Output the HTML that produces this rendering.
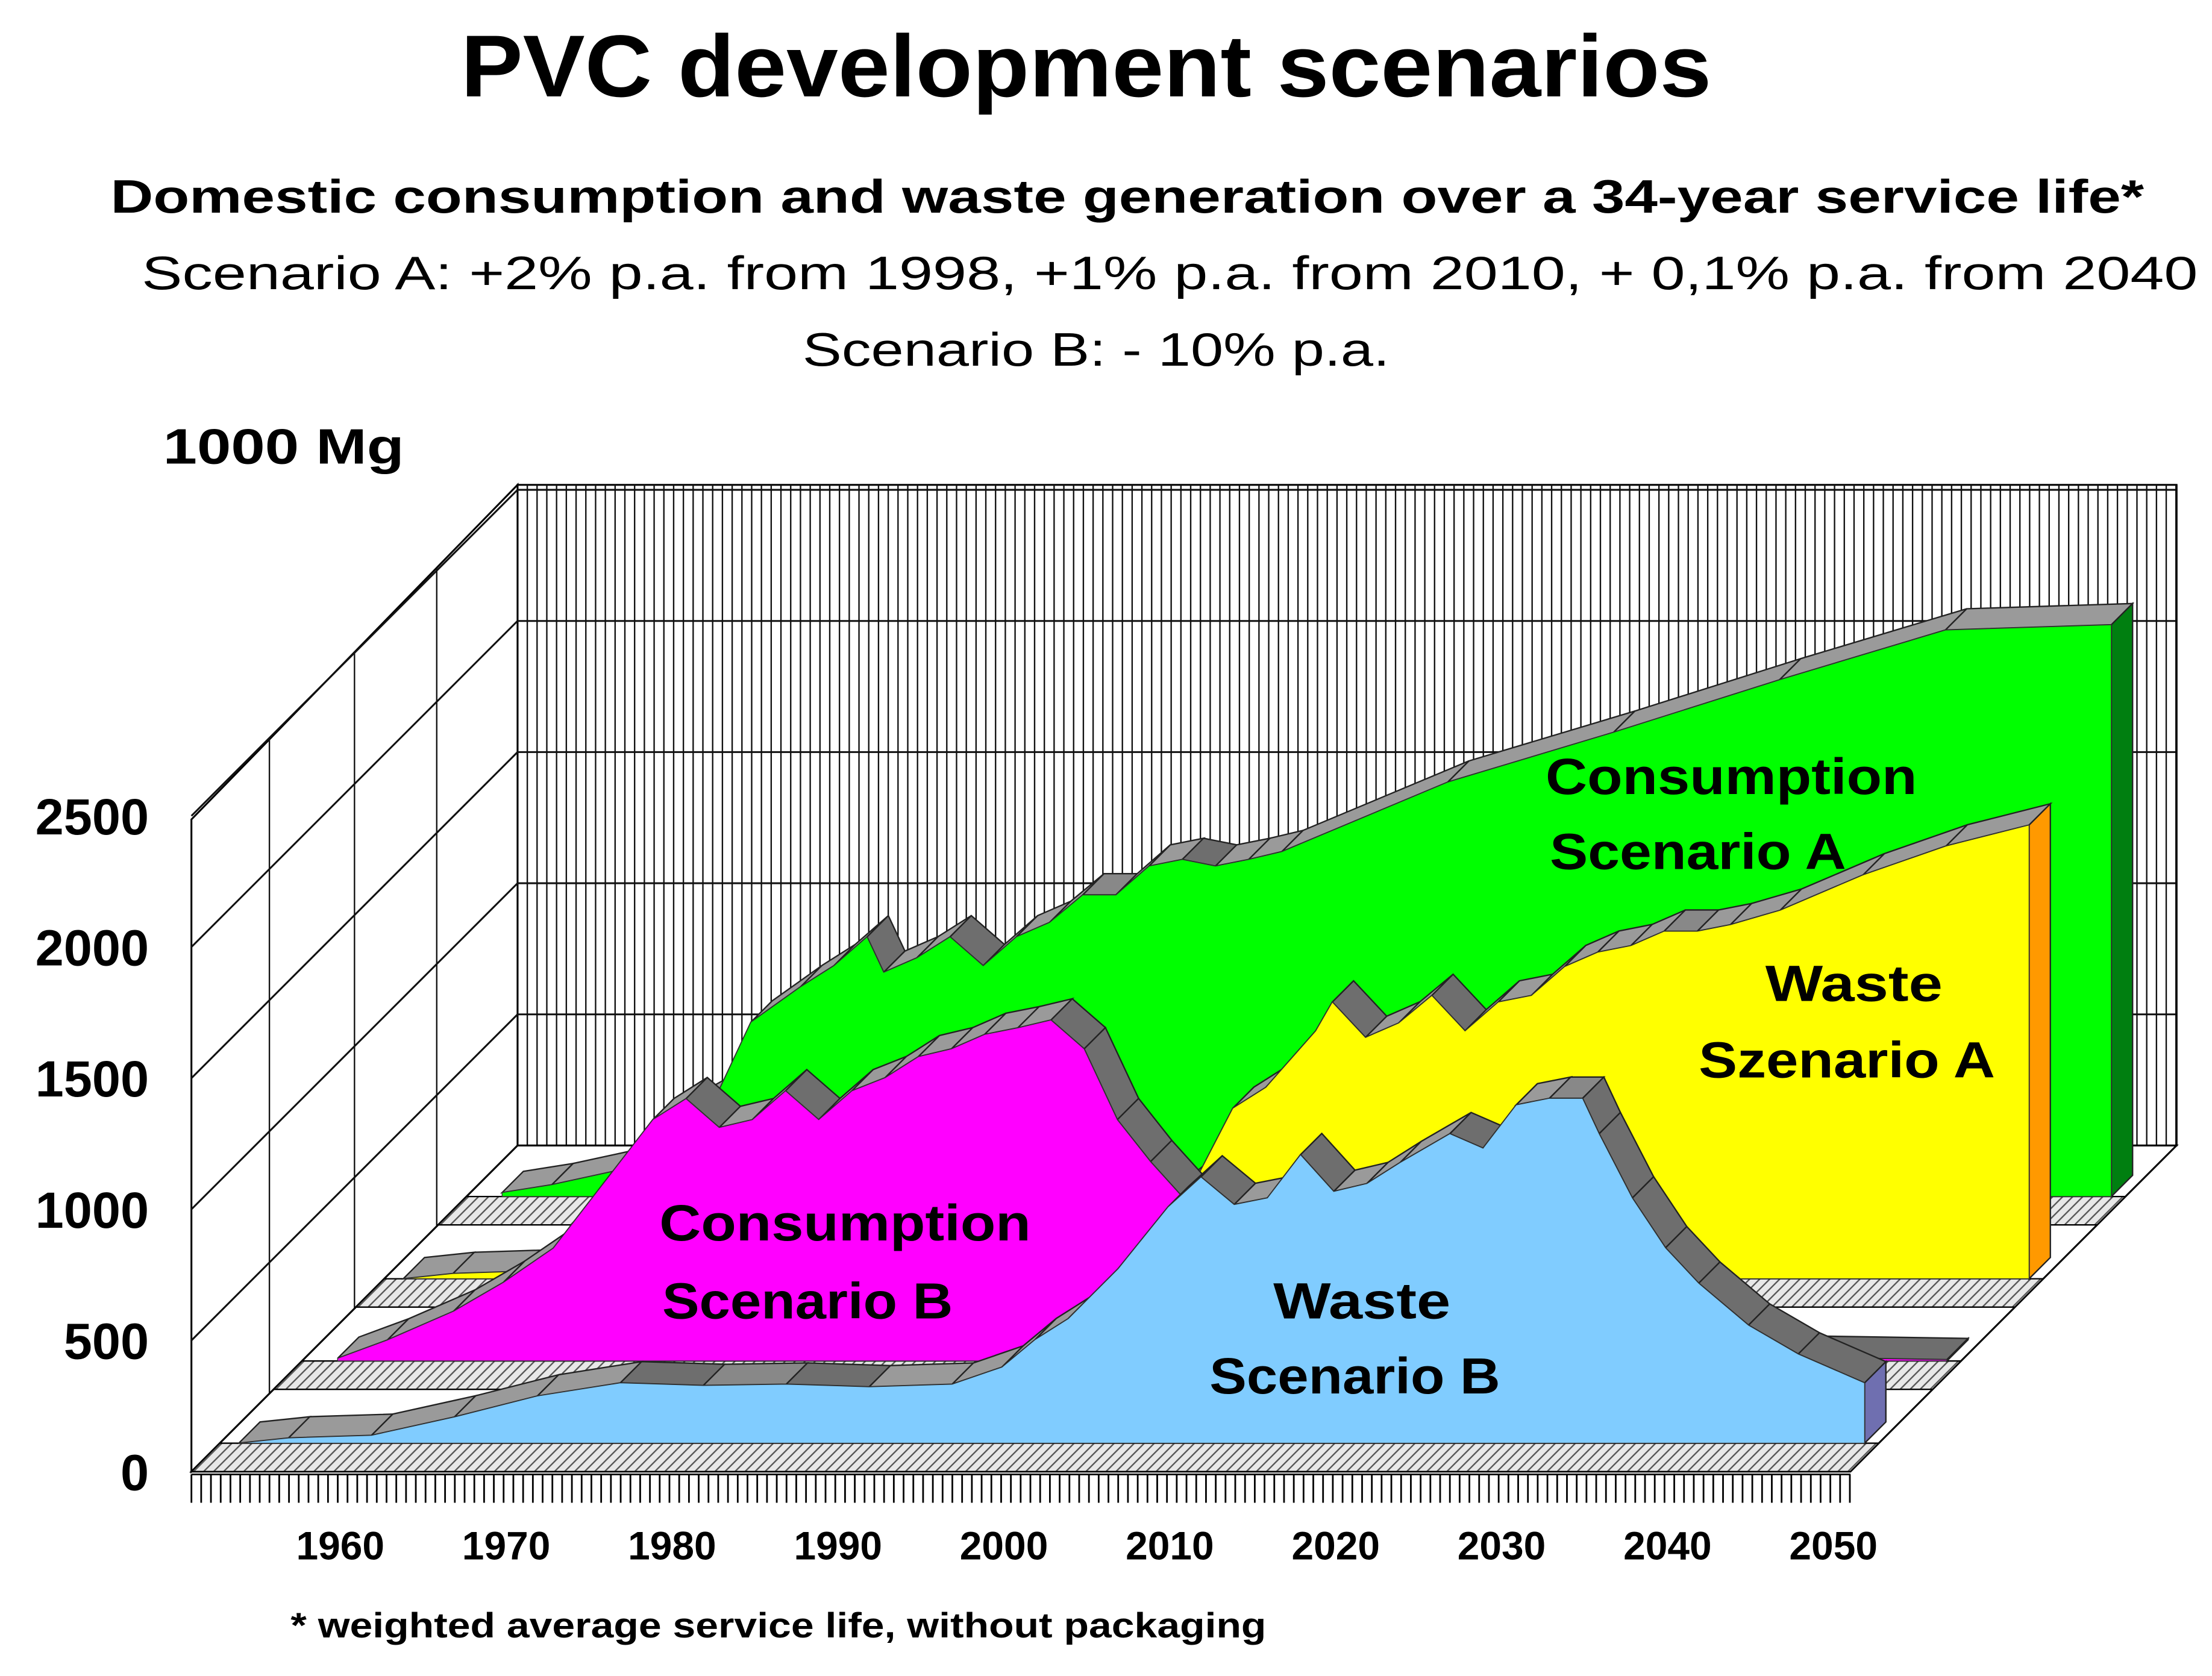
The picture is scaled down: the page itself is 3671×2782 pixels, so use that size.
<!DOCTYPE html>
<html><head><meta charset="utf-8"><style>
html,body{margin:0;padding:0;background:#fff;}
svg{display:block;}
text{font-family:"Liberation Sans",Arial,sans-serif;fill:#000;}
</style></head><body>
<svg id="chart" width="3671" height="2782" viewBox="0 0 1560 1182.2" preserveAspectRatio="none" xmlns="http://www.w3.org/2000/svg">
<defs>
<pattern id="hatch" patternUnits="userSpaceOnUse" width="5" height="5" patternTransform="rotate(45)">
<rect width="5" height="5" fill="#e8e8e8"/><line x1="0" y1="0" x2="0" y2="5" stroke="#555" stroke-width="2"/>
</pattern>
</defs>
<text x="325" y="68" font-size="62" font-weight="bold" textLength="882" lengthAdjust="spacingAndGlyphs">PVC development scenarios</text>
<text x="78" y="150" font-size="33" font-weight="bold" textLength="1434" lengthAdjust="spacingAndGlyphs">Domestic consumption and waste generation over a 34-year service life*</text>
<text x="100" y="204" font-size="33" textLength="1450" lengthAdjust="spacingAndGlyphs">Scenario A: +2% p.a. from 1998, +1% p.a. from 2010, + 0,1% p.a. from 2040</text>
<text x="566" y="258" font-size="33" textLength="414" lengthAdjust="spacingAndGlyphs">Scenario B: - 10% p.a.</text>
<text x="115" y="327" font-size="35" font-weight="bold" textLength="170" lengthAdjust="spacingAndGlyphs">1000 Mg</text>
<g id="axes"></g>
<g id="series"></g>
<g id="labels"></g>
<text x="205" y="1155" font-size="25" font-weight="bold" textLength="688" lengthAdjust="spacingAndGlyphs">* weighted average service life, without packaging</text>
</svg>
<script>
// ---- data ----
const wasteBYears   = [1952,1955,1960,1965,1970,1975,1980,1985,1990,1995,1998,2000,2002,2005,2008,2010,2012,2014,2016,2018,2020,2022,2025,2027,2029,2031,2033,2034,2036,2038,2040,2043,2046,2050];
const wasteBValues  = [0,20,30,100,180,230,220,225,215,225,290,395,475,665,900,1015,910,935,1100,960,990,1070,1180,1125,1290,1315,1315,1180,935,745,610,450,340,230];
const consBYears    = [1953,1956,1960,1963,1966,1969,1972,1974,1976,1978,1980,1982,1984,1986,1988,1990,1992,1994,1996,1998,2000,2002,2004,2006,2010,2015,2020,2030,2040,2050];
const consBValues   = [10,80,190,300,430,675,920,1000,890,920,1030,920,1030,1080,1160,1190,1245,1270,1300,1190,920,760,620,490,370,220,130,45,15,5];
const wasteAYears   = [1952,1955,1960,1965,1970,1975,1980,1985,1990,1995,1998,2000,2002,2004,2007,2008,2010,2012,2014,2016,2018,2020,2022,2024,2026,2028,2030,2032,2035,2040,2045,2050];
const wasteAValues  = [0,20,30,100,180,230,220,225,215,225,300,405,650,730,945,1055,920,975,1080,945,1055,1080,1190,1245,1270,1325,1325,1350,1405,1540,1650,1730];
const consAYears    = [1953,1956,1960,1963,1966,1968,1971,1973,1975,1976,1978,1980,1982,1984,1986,1988,1990,1992,1994,1996,1998,2000,2010,2020,2030,2040,2050];
const consAValues   = [15,45,100,290,395,665,800,880,990,855,910,990,880,990,1045,1150,1150,1260,1285,1260,1285,1315,1580,1770,1970,2160,2180];
const yTickValues   = [0,500,1000,1500,2000,2500];
const yTickLabels   = ["0","500","1000","1500","2000","2500"];
const xTickYears    = [1960,1970,1980,1990,2000,2010,2020,2030,2040,2050];
const xTickLabels   = ["1960","1970","1980","1990","2000","2010","2020","2030","2040","2050"];

// ---- geometry ----
const NS="http://www.w3.org/2000/svg";
const FX0=135, FY0=1038, YW=11.7, K=0.185, ROW=58, GAP=20, D=15, SHIFT=-10;
function xAt(year,row){return FX0+GAP+ROW*row+(year-1950)*YW+SHIFT;}
function base(row){return FY0-GAP-ROW*row;}
function yAt(v,row){return base(row)-v*K;}
function mk(tag,attrs,parent){const e=document.createElementNS(NS,tag);for(const k in attrs)e.setAttribute(k,attrs[k]);parent.appendChild(e);return e;}
const axes=document.getElementById('axes'), ser=document.getElementById('series'), lab=document.getElementById('labels');

let w;
w=mk('rect',{x:365,y:342,width:1170,height:466,fill:'#fff',stroke:'#000','stroke-width':1.3},axes);


for(let x=365;x<=1535;x+=6.88){mk('line',{x1:x,y1:342,x2:x,y2:808,stroke:'#111','stroke-width':1},axes);}
w=mk('polygon',{points:'135,578 365,342 365,808 135,1038',fill:'#fff',stroke:'#000','stroke-width':1.3},axes);


[190,250,308].forEach(x=>{const t=578-(x-135)*(236/230);mk('line',{x1:x,y1:t,x2:x,y2:1038-(x-135),stroke:'#111','stroke-width':1},axes);});
yTickValues.forEach((v,i)=>{
  const yf=FY0-v*K, yb=808-v*K;
  if(v>0){mk('line',{x1:135,y1:yf,x2:365,y2:yb,stroke:'#111','stroke-width':1.3},axes);
  mk('line',{x1:365,y1:yb,x2:1535,y2:yb,stroke:'#111','stroke-width':1.3},axes);}
  const t=mk('text',{x:105,y:yf+13,'font-size':36,'font-weight':'bold','text-anchor':'end'},axes);
  t.textContent=yTickLabels[i];
  
  
});
w=mk('polygon',{points:'135,1038 1305,1038 1535,808 365,808',fill:'#fff',stroke:'#000','stroke-width':1.3},axes);


for(let r=0;r<4;r++){
  const o=ROW*r;
  const s=mk('polygon',{points:`${FX0+o},${FY0-o} ${FX0+1170+o},${FY0-o} ${FX0+1170+o+GAP},${FY0-o-GAP} ${FX0+o+GAP},${FY0-o-GAP}`,fill:'url(#hatch)',stroke:'#000','stroke-width':1},axes);
  
  
}
mk('line',{x1:1535,y1:342,x2:1535,y2:808,stroke:'#000','stroke-width':1.3},axes);
for(let x=135;x<=1306;x+=6.88){mk('line',{x1:x,y1:1040,x2:x,y2:1060,stroke:'#000','stroke-width':1.2},axes);}
mk('line',{x1:135,y1:1040,x2:1305,y2:1040,stroke:'#000','stroke-width':1.2},axes);
xTickYears.forEach((yr,i)=>{
  const t=mk('text',{x:FX0+(yr-1950)*YW-12,y:1100,'font-size':28,'font-weight':'bold','text-anchor':'middle'},axes);
  t.textContent=xTickLabels[i];
  
  
});

function drawSeries(years,vals,row,fill,endFill,name){
  const g=mk('g',{},ser);
  
  
  const pts=years.map((yr,i)=>[xAt(yr,row),yAt(vals[i],row)]);
  for(let i=0;i<pts.length-1;i++){
    const [x1,y1]=pts[i],[x2,y2]=pts[i+1];
    const f=y2<y1-1?'#9a9a9a':(y2>y1+1?'#6e6e6e':'#888');
    const p=mk('polygon',{points:`${x1},${y1} ${x2},${y2} ${x2+D},${y2-D} ${x1+D},${y1-D}`,fill:f,stroke:'#222','stroke-width':1},g);
    
    
  }
  const b=base(row), l=pts[pts.length-1];
  const e=mk('polygon',{points:`${l[0]},${b} ${l[0]},${l[1]} ${l[0]+D},${l[1]-D} ${l[0]+D},${b-D}`,fill:endFill,stroke:'#222','stroke-width':1},g);
  
  
  const poly=pts.map(p=>p.join(',')).join(' ')+` ${l[0]},${b} ${pts[0][0]},${b}`;
  const a=mk('polygon',{points:poly,fill:fill,stroke:'#333','stroke-width':0.6},g);
  
  
}
drawSeries(consAYears,consAValues,3,'#00ff00','#007f10','consumption-scenario-a');
drawSeries(wasteAYears,wasteAValues,2,'#ffff00','#ff9900','waste-scenario-a');
drawSeries(consBYears,consBValues,1,'#ff00ff','#990099','consumption-scenario-b');
drawSeries(wasteBYears,wasteBValues,0,'#80ccff','#6f6fb0','waste-scenario-b');

function label(txt,x,y,len,name){
  const t=mk('text',{x:x,y:y,'font-size':36,'font-weight':'bold',textLength:len,lengthAdjust:'spacingAndGlyphs'},lab);
  t.textContent=txt;
  
  
}
label('Consumption',1090,560,262,'label-consumption-a');
label('Scenario A',1093,613,209,'label-consumption-a-line2');
label('Waste',1245,706,125,'label-waste-a');
label('Szenario A',1198,760,209,'label-waste-a-line2');
label('Consumption',465,875,262,'label-consumption-b');
label('Scenario B',467,930,205,'label-consumption-b-line2');
label('Waste',898,930,125,'label-waste-b');
label('Scenario B',853,983,205,'label-waste-b-line2');
</script>
</body></html>
